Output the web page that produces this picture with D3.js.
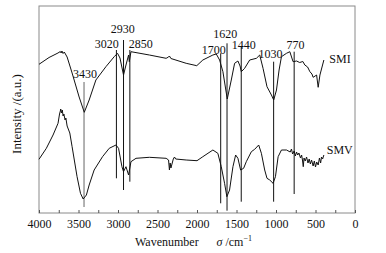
<!DOCTYPE html>
<html>
<head>
<meta charset="utf-8">
<script src="https://cdn.jsdelivr.net/npm/d3@7/dist/d3.min.js"></script>
<style>
  body { margin: 0; background: #fff; }
  svg text { font-family: "Liberation Serif", "Times New Roman", serif; fill: #111; }
</style>
</head>
<body>
<div id="chart"></div>
<script>
// wavenumber (cm-1) / intensity (a.u.) pairs
var smiWn = [4000, 3873, 3760, 3730, 3720, 3710, 3695, 3680, 3644, 3581, 3492, 3427, 3365, 3280, 3153, 3048, 3006, 2975,
  2930, 2899, 2866, 2857, 2845, 2836, 2603, 2391, 2360, 2349, 2330, 2137, 2003, 1926, 1799, 1756, 1714, 1672, 1617,
  1566, 1524, 1482, 1455, 1439, 1397, 1333, 1248, 1206, 1164, 1114, 1058, 1029, 994, 961, 931, 867, 825, 784,
  740, 700, 660, 635, 600, 571, 545, 530, 505, 486, 466, 444, 394];
var smiVal = [148.7, 155.5, 160, 161.5, 160, 162, 159.5, 161, 156, 140, 116, 100.7, 113, 133, 146.3, 156.3, 159.7, 155,
  138, 148, 158, 151.3, 157, 161.3, 158, 154.7, 156, 157, 154.5, 149.7, 147.3, 153, 158, 159, 153, 141.3, 114,
  133, 149.7, 152, 147, 141.3, 144.7, 153, 154.7, 158, 144.7, 126.3, 118, 113, 123, 143, 156.3, 159.7, 161.3, 151.3,
  152, 150.5, 151.5, 148, 146, 141.3, 139, 135.7, 137, 138, 125.7, 138, 153];

var smvWn = [4000, 3907, 3822, 3759, 3740, 3730, 3725, 3715, 3705, 3695, 3685, 3670, 3660, 3644, 3610, 3581, 3518,
  3475, 3441, 3400, 3365, 3302, 3196, 3111, 3026, 2993, 2950, 2930, 2899, 2866, 2836, 2772, 2603, 2391, 2360, 2349,
  2340, 2330, 2300, 2285, 2270, 2137, 2000, 1926, 1799, 1736, 1693, 1651, 1622, 1588, 1545, 1511, 1482, 1448, 1410,
  1376, 1312, 1270, 1219, 1185, 1143, 1114, 1079, 1037, 1007, 973, 931, 867, 820, 804, 790, 770, 755, 740, 725, 710,
  690, 676, 665, 655, 645, 630, 613, 595, 580, 565, 550, 530, 515, 500, 485, 466, 450, 435, 424, 410, 394];
var smvVal = [53.7, 64.7, 78, 89.7, 99, 102, 104, 100, 103, 97, 99, 93, 95, 87, 80, 66.3, 36.3,
  19.7, 14, 18, 28, 43, 56.3, 64.7, 68, 64.7, 46.3, 41.3, 46.3, 38, 51.3, 54.7, 55.7, 54.7, 53, 43,
  50, 45, 54, 56, 54, 53, 52.3, 56.3, 63, 59.7, 46.3, 29.7, 16.3, 23, 46.3, 58, 54.7, 43, 44.7,
  51.3, 61.3, 63.7, 68, 59.7, 43, 34.7, 33, 29.7, 36.3, 56.3, 63, 63, 61, 64, 59, 62, 57, 61, 58, 60,
  55, 58, 53, 46.3, 55, 52, 56, 50, 54, 49, 53, 47, 52, 46, 51, 48, 55, 50, 56, 54, 58];

// marked bands: wavenumber, top and bottom of the guide line (a.u.)
var bandWn = [3430, 3020, 2930, 2850, 1700, 1620, 1440, 1030, 770];
var bandTop = [131, 163, 173, 163, 159.7, 169.7, 166.3, 151.3, 161.3];
var bandBottom = [6, 34.7, 23, 31.3, 9.7, 2.3, 11.3, 11.3, 19];
// where each band label sits (wavenumber of text centre, a.u. of text centre)
var labelWn = [3418, 3143, 2939, 2711, 1789, 1642, 1408, 1070, 753];
var labelVal = [139, 169.7, 184.7, 169.7, 163.7, 179.7, 168.7, 159.7, 168.7];

var xTicks = [4000, 3500, 3000, 2500, 2000, 1500, 1000, 500, 0];
var xMinor = d3.range(0, 4001, 250);

var width = 386, height = 253;
var margin = {top: 6, right: 31, bottom: 40, left: 39};

var svg = d3.select("#chart").append("svg")
  .attr("width", width)
  .attr("height", height);

var x = d3.scaleLinear().domain([4000, 0]).range([margin.left, width - margin.right]);
var y = d3.scaleLinear().domain([0, 207]).range([height - margin.bottom, margin.top]);

// frame
svg.append("rect")
  .attr("x", x(4000)).attr("y", y(207))
  .attr("width", x(0) - x(4000)).attr("height", y(0) - y(207))
  .attr("fill", "none").attr("stroke", "#8a8a8a").attr("stroke-width", 1);

var xAxis = d3.axisBottom(x).tickValues(xMinor).tickSize(-3).tickPadding(6)
  .tickFormat(function (d) { return xTicks.indexOf(d) >= 0 ? d : ""; });

var gx = svg.append("g")
  .attr("transform", "translate(0," + y(0) + ")")
  .call(xAxis);
gx.select(".domain").remove();
gx.selectAll(".tick line").attr("stroke", "#555");
gx.selectAll(".tick text")
  .style("font-family", "Liberation Serif")
  .style("font-size", "12px")
  .attr("fill", "#111");

// guide lines
svg.append("g").selectAll("line")
  .data(bandWn)
  .enter().append("line")
  .attr("x1", function (d) { return x(d); })
  .attr("x2", function (d) { return x(d); })
  .attr("y1", function (d, i) { return y(bandTop[i]); })
  .attr("y2", function (d, i) { return y(bandBottom[i]); })
  .attr("stroke", function (d, i) { return i == 0 ? "#666" : "#111"; })
  .attr("stroke-width", 1);

var line = d3.line()
  .x(function (d) { return x(d[0]); })
  .y(function (d) { return y(d[1]); });

svg.append("path")
  .datum(d3.zip(smiWn, smiVal))
  .attr("d", line)
  .attr("fill", "none").attr("stroke", "#111").attr("stroke-width", 1);

svg.append("path")
  .datum(d3.zip(smvWn, smvVal))
  .attr("d", line)
  .attr("fill", "none").attr("stroke", "#111").attr("stroke-width", 1);

// band labels
svg.append("g").selectAll("text")
  .data(bandWn)
  .enter().append("text")
  .attr("x", function (d, i) { return x(labelWn[i]); })
  .attr("y", function (d, i) { return y(labelVal[i]); })
  .attr("dy", "0.35em")
  .attr("text-anchor", "middle")
  .style("font-size", "12px")
  .text(function (d) { return d; });

// series names
svg.append("text")
  .attr("x", x(325)).attr("y", y(154.7)).attr("dy", "0.35em")
  .style("font-size", "12px").text("SMI");
svg.append("text")
  .attr("x", x(358)).attr("y", y(63.7)).attr("dy", "0.35em")
  .style("font-size", "12px").text("SMV");

// axis titles
var xt = svg.append("text")
  .attr("x", 135).attr("y", 246)
  .style("font-size", "12px");
xt.append("tspan").text("Wavenumber");
xt.append("tspan").attr("x", 216.5).style("font-style", "italic").text("σ");
xt.append("tspan").text(" /cm");
xt.append("tspan").attr("dy", "-5").style("font-size", "8px").text("−1");

svg.append("text")
  .attr("transform", "translate(21," + 114 + ") rotate(-90)")
  .attr("text-anchor", "middle")
  .style("font-size", "13px")
  .text("Intensity /(a.u.)");
</script>
</body>
</html>
